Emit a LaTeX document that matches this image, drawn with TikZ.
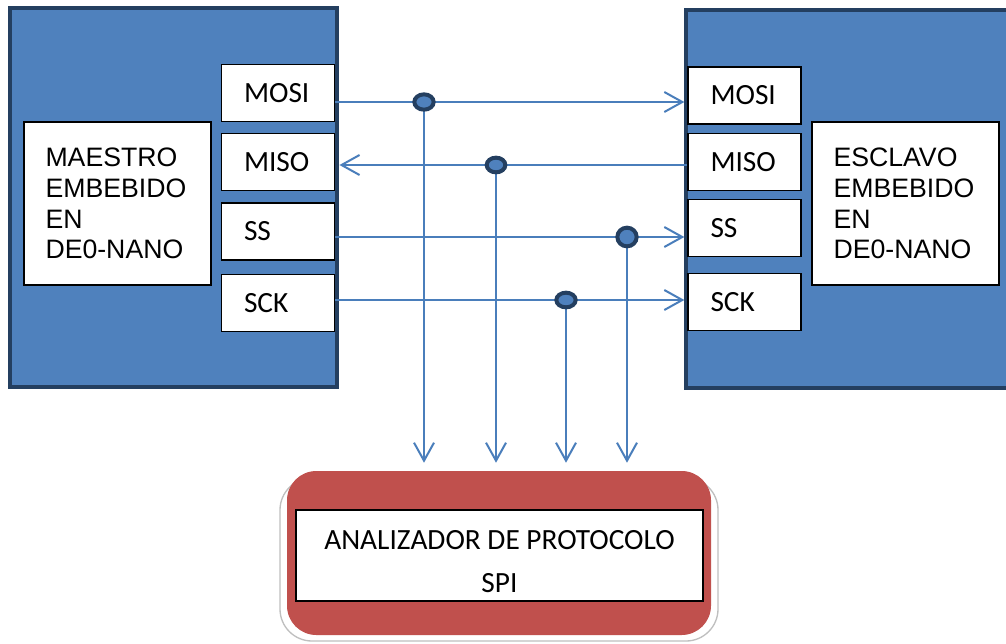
\documentclass[tikz,border=0pt]{standalone}
\usepackage{fontspec}
\setmainfont{Liberation Sans}
\newfontfamily\calfont{Carlito}
\usetikzlibrary{arrows.meta,shapes.geometric}
\definecolor{boxblue}{HTML}{4F81BD}
\definecolor{navy}{HTML}{243F60}
\definecolor{linkblue}{HTML}{4A7EBB}
\definecolor{redbox}{HTML}{C0504D}
\tikzset{
  board/.style={draw=navy, line width=3pt, fill=boxblue, minimum width=#1},
  mainbox/.style={draw=black, line width=1pt, fill=white, minimum width=140.25pt, minimum height=122.25pt,
    text width=108pt, align=left, inner xsep=16pt, font=\fontsize{20pt}{23pt}\selectfont},
  portbox/.style={draw=black, line width=1.2pt, fill=white, minimum width=84.5pt, minimum height=43pt,
    text width=51pt, align=left, inner xsep=17pt, font=\calfont\fontsize{22pt}{24pt}\selectfont},
  junc/.style={ellipse, draw=navy, line width=3pt, fill=boxblue, inner sep=0pt},
  link/.style={draw=linkblue, line width=1.5pt},
  arr/.style={link, -{Straight Barb[length=13.5pt,width=15pt,line width=1.5pt]}},
}
\begin{document}
\begin{tikzpicture}[x=0.75pt,y=-0.75pt]
\useasboundingbox (0,0) rectangle (1006,643);
\clip (0,0) rectangle (1006,643);
% boards
\node[board=245.25pt, minimum height=284.25pt] (master) at (173.5,197.5) {};
\node[board=244.5pt, minimum height=283.5pt] (slave) at (849,199) {};
\node[mainbox] (mtext) at (117.5,203.5) {MAESTRO\\EMBEBIDO\\EN\\DE0-NANO};
\node[mainbox] (stext) at (905.5,203.5) {ESCLAVO\\EMBEBIDO\\EN\\DE0-NANO};
% master ports
\node[portbox] (mosiL) at (278,93) {MOSI};
\node[portbox] (misoL) at (278,162) {MISO};
\node[portbox] (ssL) at (278,231.5) {SS};
\node[portbox] (sckL) at (278,303) {SCK};
% slave ports
\node[portbox] (mosiR) at (744.5,95.5) {MOSI};
\node[portbox] (misoR) at (744.5,162) {MISO};
\node[portbox] (ssR) at (744.5,228) {SS};
\node[portbox] (sckR) at (744.5,302) {SCK};
% analyzer
\draw[draw=black!25, line width=1pt, fill=white, rounded corners=24pt] (280,478) rectangle (718,641);
\node[draw=none, fill=redbox, rounded corners=22pt, minimum width=318pt, minimum height=123pt] (ana) at (499,553) {};
\node[draw=black, line width=1.2pt, fill=white, minimum width=305.25pt, minimum height=68.25pt] (anabox) at (499.5,555.5) {};
\node[font=\calfont\fontsize{22pt}{32pt}\selectfont, align=center] (anatext) at (499.5,561.5) {ANALIZADOR DE PROTOCOLO\\SPI};
% junctions
\coordinate (j1) at (424,102);
\coordinate (j2) at (496,165);
\coordinate (j3) at (627,237);
\coordinate (j4) at (566,300);
% horizontal signals
\draw[arr, shorten >=2pt] (mosiL.east |- j1) -- (mosiR.west |- j1);
\draw[arr, shorten >=3pt] (misoR.west |- j2) -- (misoL.east |- j2);
\draw[arr, shorten >=2pt] (ssL.east |- j3) -- (ssR.west |- j3);
\draw[arr, shorten >=2pt] (sckL.east |- j4) -- (sckR.west |- j4);
% vertical taps
\draw[arr, shorten >=6pt] (j1) -- (j1 |- ana.north);
\draw[arr, shorten >=6pt] (j2) -- (j2 |- ana.north);
\draw[arr, shorten >=6pt] (j3) -- (j3 |- ana.north);
\draw[arr, shorten >=6pt] (j4) -- (j4 |- ana.north);
% dots
\node[junc, minimum width=14.5pt, minimum height=11.5pt] (d1) at (j1) {};
\node[junc, minimum width=14pt, minimum height=11pt] (d2) at (j2) {};
\node[junc, minimum width=14.5pt, minimum height=14pt] (d3) at (j3) {};
\node[junc, minimum width=14.5pt, minimum height=11pt] (d4) at (j4) {};
\end{tikzpicture}
\end{document}
